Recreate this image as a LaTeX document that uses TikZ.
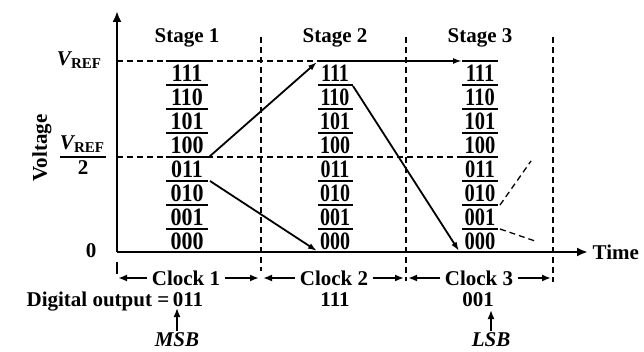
\documentclass[tikz,border=0pt]{standalone}
\usepackage{fontspec}
\usepackage{graphicx}
\setmainfont{Liberation Serif}
\usetikzlibrary{arrows.meta}
\tikzset{
  lbl/.style={inner sep=0.5pt, font=\fontsize{21}{22}\selectfont\bfseries},
  code/.style={inner sep=0pt, font=\fontsize{25}{25}\selectfont\bfseries},
  bar/.style={line width=2.6pt},
  axis/.style={line width=2.2pt, -{Latex[length=11pt,width=9pt]}},
  vpath/.style={line width=1.8pt, -{Latex[length=9pt,width=6pt]}},
  guide/.style={line width=1.5pt, dash pattern=on 6pt off 4pt},
  clk/.style={line width=2pt, -{Latex[length=9pt,width=7pt]}},
  ptr/.style={line width=1.7pt, -{Latex[length=9pt,width=7pt]}}
}
\begin{document}
\begin{tikzpicture}[x=1pt,y=-1pt]
\useasboundingbox (0,0) rectangle (644,352);

% guide lines
\draw[guide] (117,61) -- (318,61);
\draw[guide] (117,157) -- (462,157);
\draw[guide] (261,37) -- (261,271);
\draw[guide] (406,37) -- (406,281);
\draw[guide] (553,37) -- (553,282);

% axes
\coordinate (O) at (117,252);
\coordinate (ytop) at (117,11);
\coordinate (xend) at (588,252);
\draw[axis] (O) -- (ytop);
\draw[axis] (O) -- (xend);
\node[lbl, anchor=west] (time) at (592,252) {Time};

% axis labels
\node[lbl, rotate=90] (volt) at (42,148) {Voltage};
\node[lbl] (vref) at (79,60) {{\itshape V}\raisebox{-3pt}{\fontsize{15}{16}\selectfont REF}};
\node[lbl] (vrefn) at (82,144) {{\itshape V}\raisebox{-3pt}{\fontsize{15}{16}\selectfont REF}};
\draw[line width=1.5pt] (60,157) -- (106,157);
\node[lbl] (two) at (83,168) {2};
\node[lbl] (zero) at (91,251) {0};

% stages
\node[lbl] (st1) at (187,38) {Stage 1};
\node[lbl] (st2) at (335,38) {Stage 2};
\node[lbl] (st3) at (480,38) {Stage 3};

\foreach \c [count=\i from 0] in {111,110,101,100,011,010,001,000} {
  \pgfmathsetmacro\yy{61+24*\i}
  \node[code] (sa\i) at (187,\yy+12.5) {\scalebox{0.88}[1]{\c}};
  \draw[bar] (166,\yy) -- (208,\yy);
  \node[code] (sb\i) at (335,\yy+12.5) {\scalebox{0.8}[1]{\c}};
  \draw[bar] (318,\yy) -- (353,\yy);
  \node[code] (sc\i) at (480,\yy+12.5) {\scalebox{0.82}[1]{\c}};
  \draw[bar] (462,\yy) -- (498,\yy);
}

% voltage path
\coordinate (a0) at (209,157);
\coordinate (a1) at (317,62);
\coordinate (b0) at (210,181);
\coordinate (b1) at (317,251);
\coordinate (c0) at (353,61);
\coordinate (c1) at (462,61);
\coordinate (d0) at (353,86);
\coordinate (d1) at (459,251);
\draw[vpath] (a0) -- (a1);
\draw[vpath] (b0) -- (b1);
\draw[vpath] (c0) -- (c1);
\draw[vpath] (d0) -- (d1);
\coordinate (e0) at (500,205);
\coordinate (e1) at (531,161);
\coordinate (f0) at (500,229);
\coordinate (f1) at (535,241);
\draw[guide, line width=1.3pt] (e0) -- (e1);
\draw[guide, line width=1.3pt] (f0) -- (f1);

% clock row
\draw[line width=1.5pt] (117,262) -- (117,274);
\node[lbl] (ck1) at (186,278) {Clock 1};
\node[lbl] (ck2) at (334,278) {Clock 2};
\node[lbl] (ck3) at (479,278) {Clock 3};
\coordinate (t0) at (118,278);
\coordinate (t1a) at (259,278);
\coordinate (t1b) at (263,278);
\coordinate (t2a) at (404,278);
\coordinate (t2b) at (408,278);
\coordinate (t3) at (551,278);
\draw[clk] ([xshift=-4pt]ck1.west |- t0) -- (t0);
\draw[clk] ([xshift=4pt]ck1.east |- t0) -- (t1a);
\draw[clk] ([xshift=-4pt]ck2.west |- t0) -- (t1b);
\draw[clk] ([xshift=4pt]ck2.east |- t0) -- (t2a);
\draw[clk] ([xshift=-4pt]ck3.west |- t0) -- (t2b);
\draw[clk] ([xshift=4pt]ck3.east |- t0) -- (t3);

% digital output
\node[lbl, anchor=base east] (dig) at (170,306) {Digital output =};
\node[lbl, anchor=base] (o1) at (188,306) {011};
\node[lbl, anchor=base] (o2) at (335,306) {111};
\node[lbl, anchor=base] (o3) at (478,306) {001};

\node[lbl, anchor=base] (msb) at (177,346) {\itshape MSB};
\node[lbl, anchor=base] (lsb) at (491,346) {\itshape LSB};
\coordinate (msbtip) at (177,308);
\coordinate (lsbtip) at (491,310);
\draw[ptr] (msb.north) -- (msbtip);
\draw[ptr] (lsb.north) -- (lsbtip);
\end{tikzpicture}
\end{document}
